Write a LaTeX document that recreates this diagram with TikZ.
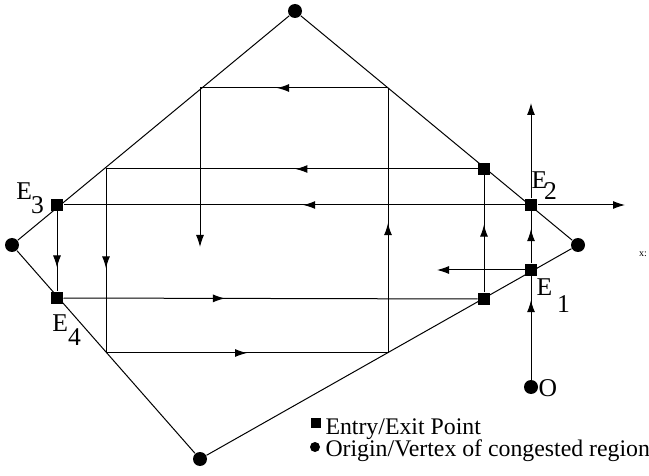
\documentclass[tikz,border=0pt]{standalone}
\usepackage{fontspec}
\setmainfont{Liberation Serif}
\usetikzlibrary{arrows.meta, decorations.markings}

\tikzset{
  vertice/.style={circle, fill=black, inner sep=0pt, minimum size=7pt},
  punto/.style={rectangle, fill=black, inner sep=0pt, minimum size=6pt},
  punta/.style={-{Latex[length=6pt,width=4pt]}},
  freccia/.style={postaction={decorate}, decoration={markings,
      mark=at position #1 with {\arrow{Latex[length=6pt,width=4pt]}}}},
  lab/.style={inner sep=0pt, font=\fontsize{12.8}{14}\selectfont},
}

\begin{document}
\begin{tikzpicture}[x=0.5pt, y=-0.5pt, line width=0.5pt]
	\useasboundingbox (0,0) rectangle (649,476);
	
	% Vertici della regione congestionata
	\node[vertice] (T) at (295,11) {};
	\node[vertice] (R) at (578,245) {};
	\node[vertice] (B) at (200,459) {};
	\node[vertice] (L) at (12,245) {};
	\node[vertice] (O) at (531,387) {};
	
	% Punti di ingresso/uscita
	\node[punto] (E1) at (531,270) {};
	\node[punto] (E2) at (531,205) {};
	\node[punto] (E3) at (57,205) {};
	\node[punto] (E4) at (57,298) {};
	\node[punto] (P) at (484,169) {};
	\node[punto] (Q) at (484,299) {};
	
	% Angoli dei percorsi
	\coordinate (a) at (200,88);
	\coordinate (b) at (388,88);
	\coordinate (c) at (106,169);
	\coordinate (d) at (106,353);
	\coordinate (e) at (388,353);
	\coordinate (f) at (200,247);
	\coordinate (g) at (437,270);
	\coordinate (h) at (531,103);
	\coordinate (k) at (625,205);
	
	% Bordo della regione
	\draw (T) -- (R) -- (B) -- (L) -- (T);
	
	% Assi
	\draw[freccia=0.77] (O) -- (E1);
	\draw[freccia=0.66] (E1) -- (E2);
	\draw[punta] (E2) -- (h);
	\draw[freccia=0.48] (E2) -- (E3);
	\draw[punta] (E2) -- (k);
	
	% Percorsi
	\draw[freccia=0.49] (P) -- (c);
	\draw[freccia=0.54] (c) -- (d);
	\draw[freccia=0.5] (d) -- (e);
	\draw[freccia=0.49] (e) -- (b);
	\draw[freccia=0.59] (b) -- (a);
	\draw[punta] (a) -- (f);
	\draw[freccia=0.7] (E3) -- (E4);
	\draw[freccia=0.39] (E4) -- (Q);
	\draw[freccia=0.58] (Q) -- (P);
	\draw[punta] (E1) -- (g);
	
	% Etichette
	\node[lab, anchor=base west] (l2) at (531,189) {E\kern-1.5pt\raisebox{-5.5pt}{2}};
	\node[lab, anchor=base west] (l1) at (536,295) {E\kern2.5pt\raisebox{-9pt}{1}};
	\node[lab, anchor=base west] (l3) at (16,199) {E\kern-0.5pt\raisebox{-7pt}{3}};
	\node[lab, anchor=base west] (l4) at (52,331) {E\raisebox{-7pt}{4}};
	\node[lab, anchor=west] (lo) at (538,388) {O};
	\node[inner sep=0pt, font=\fontsize{5}{6}\selectfont] (xl) at (643,254) {x:};
	
	% Legenda
	\node[punto, minimum size=5pt] (lq) at (316,423) {};
	\node[vertice, minimum size=5pt] (lc) at (315,447) {};
	\node[lab, anchor=base west, font=\fontsize{11.9}{14}\selectfont] (tq) at (325,434) {Entry/Exit Point};
	\node[lab, anchor=base west, font=\fontsize{11.9}{14}\selectfont] (tc) at (325,456) {Origin/Vertex of congested region};
\end{tikzpicture}
\end{document}
